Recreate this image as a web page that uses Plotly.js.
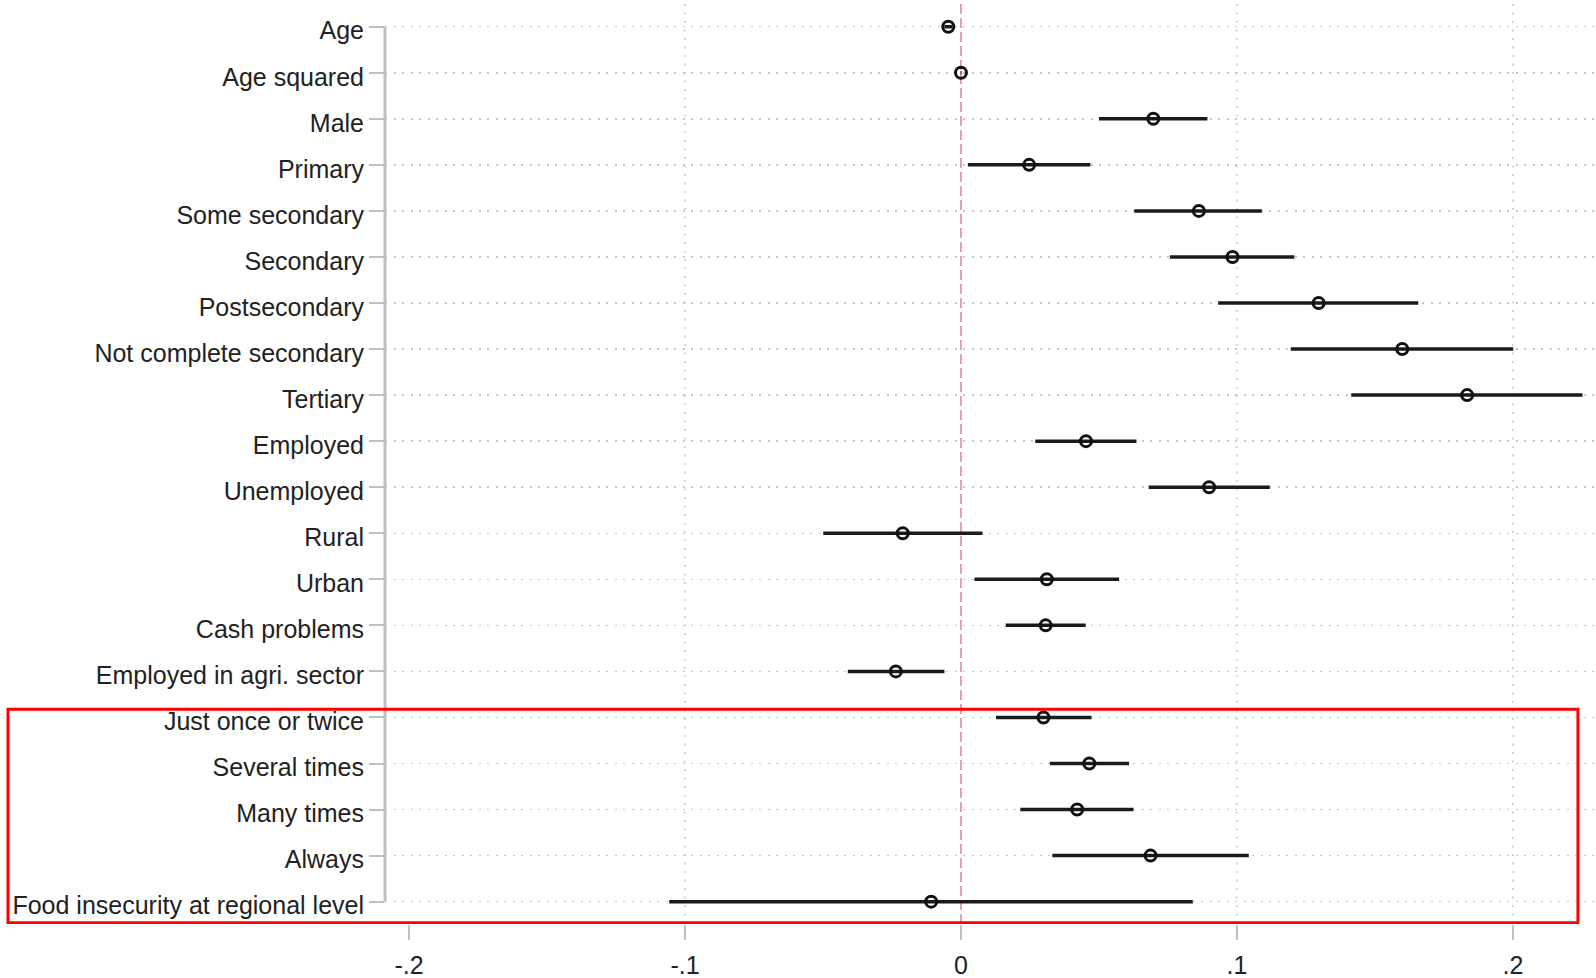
<!DOCTYPE html>
<html>
<head>
<meta charset="utf-8">
<script src="https://cdn.plot.ly/plotly-3.0.1.min.js"></script>
<style>
  html, body { margin: 0; padding: 0; background: #ffffff; }
  #chart { width: 1596px; height: 978px; }
</style>
</head>
<body>
<div id="chart"></div>
<script>
// ---- data ----
const labels = [
  "Age", "Age squared", "Male", "Primary", "Some secondary", "Secondary",
  "Postsecondary", "Not complete secondary", "Tertiary", "Employed",
  "Unemployed", "Rural", "Urban", "Cash problems", "Employed in agri. sector",
  "Just once or twice", "Several times", "Many times", "Always",
  "Food insecurity at regional level"
];
const coef   = [-0.0046, 0.0000, 0.0697, 0.0247, 0.0862, 0.0984, 0.1296, 0.1599, 0.1834, 0.0453,
                 0.0899, -0.0211, 0.0311, 0.0307, -0.0236, 0.0299, 0.0465, 0.0421, 0.0687, -0.0108];
const ciLow  = [-0.0060, -0.0002, 0.0500, 0.0025, 0.0628, 0.0757, 0.0932, 0.1195, 0.1414, 0.0269,
                 0.0680, -0.0499, 0.0049, 0.0162, -0.0410, 0.0127, 0.0322, 0.0215, 0.0331, -0.1057];
const ciHigh = [-0.0032, 0.0002, 0.0893, 0.0469, 0.1090, 0.1208, 0.1657, 0.2001, 0.2252, 0.0636,
                 0.1119, 0.0078, 0.0573, 0.0452, -0.0060, 0.0473, 0.0609, 0.0625, 0.1043, 0.0840];
const xTickVals = [-0.2, -0.1, 0, 0.1, 0.2];
const xTickText = ["-.2", "-.1", "0", ".1", ".2"];
const xGridVals = [-0.1, 0.1, 0.2];
const refLine = 0;
// rows highlighted by the red frame: first and last label of the block
const boxFirst = "Just once or twice";
const boxLast = "Food insecurity at regional level";

// ---- derived ----
const rows = labels.map((_, i) => i);
const errPlus = coef.map((c, i) => ciHigh[i] - c);
const errMinus = coef.map((c, i) => c - ciLow[i]);

const font = "Liberation Sans, Arial, sans-serif";
const gridColor = "#c6c6c6";
const axisGray = "#c0c0c0";

const trace = {
  type: "scatter",
  mode: "markers",
  x: coef,
  y: rows,
  marker: { symbol: "circle-open", size: 11, color: "#111111", line: { width: 3, color: "#111111" } },
  error_x: {
    type: "data", symmetric: false, array: errPlus, arrayminus: errMinus,
    width: 0, thickness: 3.5, color: "#1a1a1a"
  },
  hoverinfo: "skip",
  showlegend: false,
  cliponaxis: false
};

const shapes = [];
// vertical dotted grid
xGridVals.forEach(v => shapes.push({
  type: "line", xref: "x", yref: "paper", x0: v, x1: v, y0: 0, y1: 1,
  layer: "below", line: { color: gridColor, width: 1.5, dash: "2px,6.5px" }
}));
// pink reference line at 0
shapes.push({
  type: "line", xref: "x", yref: "paper", x0: refLine, x1: refLine, y0: 0, y1: 1,
  layer: "below", line: { color: "#dc7fb6", width: 1.5, dash: "10px,4px" }
});
// y axis line spanning first to last category
shapes.push({
  type: "line", xref: "paper", yref: "y", x0: 0, x1: 0, y0: 0, y1: labels.length - 1,
  layer: "above", line: { color: axisGray, width: 3 }
});
// red highlight frame
const iFirst = labels.indexOf(boxFirst), iLast = labels.indexOf(boxLast);
shapes.push({
  type: "rect", xref: "paper", yref: "y",
  x0: -0.3113, x1: 0.9851, y0: iFirst - 0.18, y1: iLast + 0.46,
  layer: "above", line: { color: "#ff0000", width: 3 }, fillcolor: "rgba(0,0,0,0)"
});

const layout = {
  width: 1596, height: 978,
  margin: { l: 385, r: 0, t: 0, b: 54, pad: 0 },
  paper_bgcolor: "#ffffff", plot_bgcolor: "#ffffff",
  font: { family: font, size: 25, color: "#222222" },
  xaxis: {
    range: [-0.2087, 0.2301],
    tickmode: "array", tickvals: xTickVals, ticktext: xTickText,
    ticks: "outside", ticklen: 15, tickwidth: 2, tickcolor: axisGray,
    ticklabelstandoff: 4,
    showgrid: false, zeroline: false, showline: false,
    tickfont: { family: font, size: 25, color: "#222222" },
    fixedrange: true
  },
  yaxis: {
    range: [19.485, -0.58],
    tickmode: "array", tickvals: rows, ticktext: labels,
    ticks: "outside", ticklen: 15, tickwidth: 2, tickcolor: axisGray,
    ticklabelshift: -4,
    showgrid: true, gridcolor: gridColor, gridwidth: 1.5, griddash: "2px,6.5px",
    zeroline: false, showline: false,
    tickfont: { family: font, size: 25, color: "#222222" },
    fixedrange: true
  },
  shapes: shapes,
  showlegend: false
};

Plotly.newPlot("chart", [trace], layout, { staticPlot: true, displayModeBar: false });
</script>
</body>
</html>
